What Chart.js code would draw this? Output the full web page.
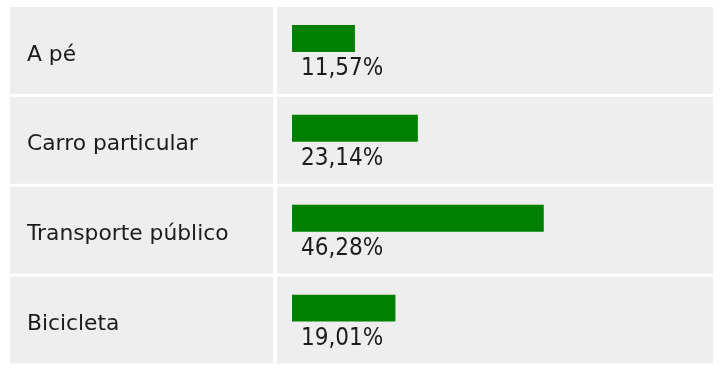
<!DOCTYPE html>
<html>
<head>
<meta charset="utf-8">
<script src="https://cdn.jsdelivr.net/npm/chart.js@4/dist/chart.umd.min.js"></script>
<style>
  html, body { margin: 0; padding: 0; background: #ffffff; }
  #wrap { width: 722px; height: 372px; }
</style>
</head>
<body>
<div id="wrap"><canvas id="chart" width="722" height="372"></canvas></div>
<script>
// Poll results (percent of votes)
const categories = ['A pé', 'Carro particular', 'Transporte público', 'Bicicleta']
const percentages = [11.57, 23.14, 46.28, 19.01]
// empty slot under each bar, where the percentage is written
const spacer = [0, 0, 0, 0]

const CELL_BG = '#eeeeee'
const BAR_GREEN = '#008000'

// Grey table cells behind each row
const cellsPlugin = {
  id: 'cells',
  beforeDraw(chart) {
    const { ctx } = chart
    const y = chart.scales.y
    const pitch = y.height / categories.length
    ctx.save()
    ctx.fillStyle = CELL_BG
    categories.forEach((c, i) => {
      const top = y.getPixelForValue(i) - pitch / 2
      const h = pitch - 3
      ctx.fillRect(10, top, 263, h)
      ctx.fillRect(277, top, 436, h)
    })
    ctx.restore()
  }
}

// Percentage text below each bar
const percentLabels = {
  id: 'percentLabels',
  afterDatasetsDraw(chart) {
    const { ctx } = chart
    const meta = chart.getDatasetMeta(0)
    ctx.save()
    ctx.fillStyle = '#1c1c1c'
    ctx.font = "24px 'DejaVu Sans Condensed', 'DejaVu Sans', sans-serif"
    ctx.textAlign = 'left'
    ctx.textBaseline = 'alphabetic'
    meta.data.forEach((bar, i) => {
      const text = percentages[i].toFixed(2).replace('.', ',') + '%'
      ctx.fillText(text, bar.base + 9, bar.y + bar.height / 2 + 23)
    })
    ctx.restore()
  }
}

new Chart(document.getElementById('chart').getContext('2d'), {
  type: 'bar',
  data: {
    labels: categories,
    datasets: [
      {
        data: percentages,
        backgroundColor: BAR_GREEN,
        borderWidth: 0,
        barPercentage: 1,
        categoryPercentage: 0.6
      },
      {
        data: spacer,
        backgroundColor: 'rgba(0,0,0,0)',
        borderWidth: 0,
        barPercentage: 1,
        categoryPercentage: 0.6
      }
    ]
  },
  options: {
    indexAxis: 'y',
    responsive: false,
    animation: false,
    layout: { padding: { left: 27, right: 22, top: 7, bottom: 5 } },
    plugins: {
      legend: { display: false },
      tooltip: { enabled: false }
    },
    scales: {
      x: {
        display: false,
        min: 0,
        max: 75
      },
      y: {
        grid: { display: false },
        border: { display: false },
        afterFit(scale) { scale.width = 265 },
        ticks: {
          crossAlign: 'far',
          labelOffset: 3,
          padding: 0,
          color: '#1c1c1c',
          font: { family: "'DejaVu Sans', Verdana, sans-serif", size: 21.8, lineHeight: 0.5 }
        }
      }
    }
  },
  plugins: [cellsPlugin, percentLabels]
})
</script>
</body>
</html>
